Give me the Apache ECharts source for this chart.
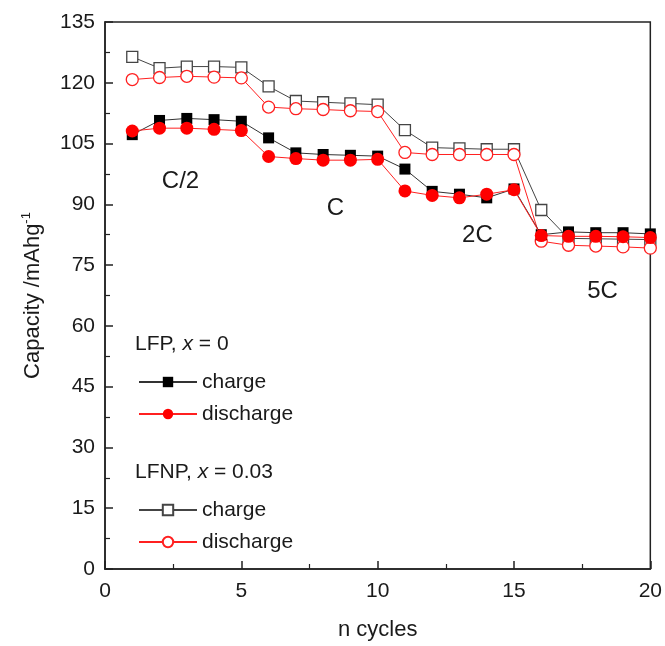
<!DOCTYPE html>
<html>
<head>
<meta charset="utf-8">
<script src="https://cdn.jsdelivr.net/npm/echarts@6/dist/echarts.min.js"></script>
<style>
html,body{margin:0;padding:0;background:#fff;}
#chart{width:665px;height:646px;}
</style>
</head>
<body>
<div id="chart"></div>
<script>
const cycles = [1,2,3,4,5,6,7,8,9,10,11,12,13,14,15,16,17,18,19,20];
const lfpCharge    = [107.2,110.7,111.2,110.9,110.5,106.4,102.7,102.3,102.1,101.9,98.7,93.2,92.5,91.6,93.8,82.5,83.2,83.0,83.0,82.7];
const lfpDischarge = [108.1,108.8,108.8,108.5,108.2,101.8,101.3,100.9,100.9,101.1,93.3,92.2,91.6,92.5,93.6,82.3,82.1,82.1,82.0,81.8];
const lfnpCharge    = [126.4,123.6,124.0,124.0,123.8,119.1,115.5,115.2,114.9,114.6,108.3,104.0,103.8,103.6,103.6,88.6,81.6,81.5,81.4,81.3];
const lfnpDischarge = [120.8,121.3,121.6,121.4,121.2,114.0,113.6,113.4,113.1,112.9,102.8,102.3,102.3,102.3,102.3,80.9,79.9,79.7,79.5,79.2];
const xTicks = [0,5,10,15,20];
const yTicks = [0,15,30,45,60,75,90,105,120,135];
const rateNames = ['C/2','C','2C','5C'];
const rateX = [2.77,8.45,13.66,18.25];
const rateY = [95.6,89.0,82.4,68.6];

const pair = arr => cycles.map((c,i)=>[c,arr[i]]);
const chart = echarts.init(document.getElementById('chart'));
const FONT = 'Liberation Sans, Arial, sans-serif';
const TXT = '#1a1a1a';

const option = {
  animation:false,
  backgroundColor:'#fff',
  grid:{left:105,right:10,top:22,bottom:75,show:true,borderColor:'#222',borderWidth:1.5,backgroundColor:'transparent'},
  xAxis:{
    type:'value',min:0,max:20,interval:5,
    name:'n cycles',nameLocation:'middle',nameGap:50,
    nameTextStyle:{fontFamily:FONT,fontSize:22,color:TXT},
    axisLine:{show:true,lineStyle:{color:'#222',width:1.5}},
    axisTick:{show:true,inside:true,length:8,lineStyle:{color:'#222',width:1.5}},
    minorTick:{show:true,splitNumber:2,length:5,lineStyle:{color:'#222',width:1.2}},
    splitLine:{show:false},
    axisLabel:{fontFamily:FONT,fontSize:21,color:TXT,margin:12,
      formatter:v=> xTicks.includes(v)?String(v):''}
  },
  yAxis:{
    type:'value',min:0,max:135,interval:15,
    name:'Capacity /mAhg{sup|-1}',nameLocation:'middle',nameGap:60,nameRotate:90,
    nameTextStyle:{fontFamily:FONT,fontSize:22,color:TXT,
      rich:{sup:{fontFamily:FONT,fontSize:13,color:TXT,verticalAlign:'top',padding:[0,0,12,0]}}},
    axisLine:{show:true,lineStyle:{color:'#222',width:1.5}},
    axisTick:{show:true,inside:true,length:8,lineStyle:{color:'#222',width:1.5}},
    minorTick:{show:true,splitNumber:2,length:5,lineStyle:{color:'#222',width:1.2}},
    splitLine:{show:false},
    axisLabel:{fontFamily:FONT,fontSize:21,color:TXT,margin:10,
      formatter:v=> yTicks.includes(v)?String(v):''}
  },
  legend:[
    {orient:'vertical',left:133,top:366,itemWidth:58,itemHeight:13,itemGap:10,
     data:['LFP charge','LFP discharge'],
     formatter:n=>n.replace('LFP ',''),
     textStyle:{fontFamily:FONT,fontSize:21,color:TXT,lineHeight:22}},
    {orient:'vertical',left:133,top:494,itemWidth:58,itemHeight:13,itemGap:10,
     data:['LFNP charge','LFNP discharge'],
     formatter:n=>n.replace('LFNP ',''),
     textStyle:{fontFamily:FONT,fontSize:21,color:TXT,lineHeight:22}}
  ],
  graphic:[
    {type:'text',left:135,top:334,style:{text:'LFP, {i|x} = 0',fontFamily:FONT,fontSize:21,fill:TXT,
      rich:{i:{fontFamily:FONT,fontSize:21,fontStyle:'italic',fill:TXT}}}},
    {type:'text',left:135,top:462,style:{text:'LFNP, {i|x} = 0.03',fontFamily:FONT,fontSize:21,fill:TXT,
      rich:{i:{fontFamily:FONT,fontSize:21,fontStyle:'italic',fill:TXT}}}}
  ],
  series:[
    {name:'LFNP charge',type:'line',data:pair(lfnpCharge),symbol:'rect',symbolSize:11,z:2,
     lineStyle:{color:'#444',width:1},itemStyle:{color:'#fff',borderColor:'#444',borderWidth:1.3}},
    {name:'LFNP discharge',type:'line',data:pair(lfnpDischarge),symbol:'circle',symbolSize:12,z:3,
     lineStyle:{color:'#ff2020',width:1},itemStyle:{color:'#fff',borderColor:'#ff2020',borderWidth:1.3}},
    {name:'LFP charge',type:'line',data:pair(lfpCharge),symbol:'rect',symbolSize:11,z:4,
     lineStyle:{color:'#333',width:1},itemStyle:{color:'#000',borderColor:'#000',borderWidth:0}},
    {name:'LFP discharge',type:'line',data:pair(lfpDischarge),symbol:'circle',symbolSize:13,z:5,
     lineStyle:{color:'#ff2020',width:1},itemStyle:{color:'#ff0000',borderColor:'#ff0000',borderWidth:0},
     markPoint:{symbol:'rect',symbolSize:2,silent:true,
       itemStyle:{color:'rgba(0,0,0,0)',borderWidth:0},
       label:{show:true,position:'inside',fontFamily:FONT,fontSize:24,color:TXT,formatter:p=>p.name},
       data:rateNames.map((n,i)=>({name:n,coord:[rateX[i],rateY[i]]}))}}
  ]
};
chart.setOption(option);
</script>
</body>
</html>
